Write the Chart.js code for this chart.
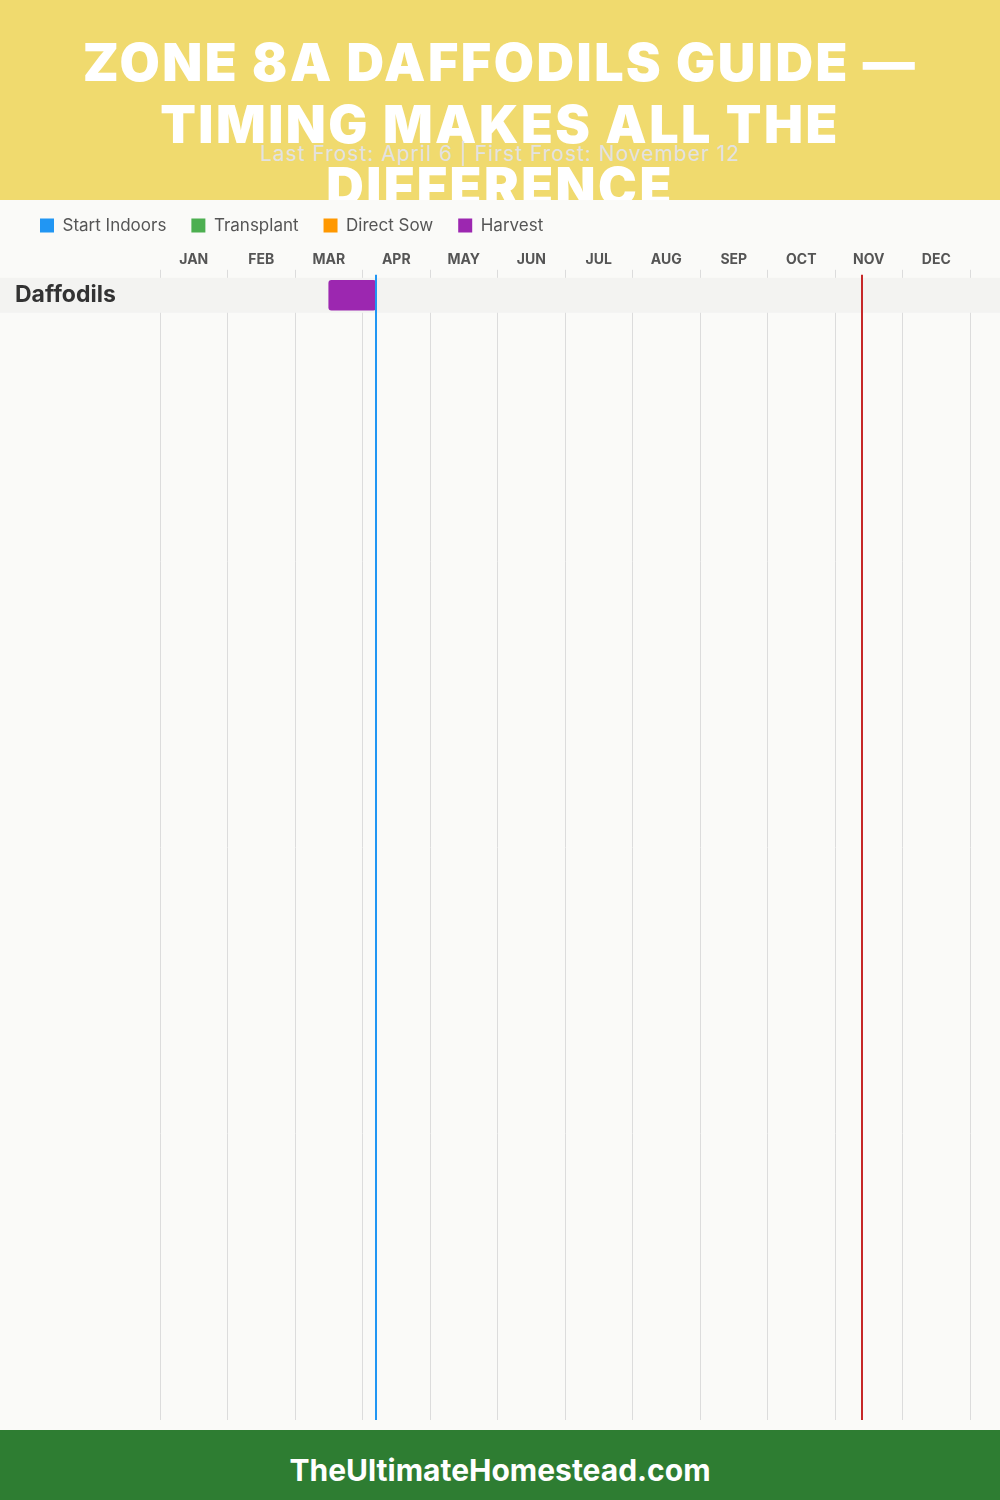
<!DOCTYPE html>
<html>
<head>
<meta charset="utf-8">
<script src="https://cdn.jsdelivr.net/npm/chart.js"></script>
<style>
  body { margin: 0; width: 1000px; height: 1500px; position: relative; background: #fafaf8; font-family: 'Inter', 'Open Sans', sans-serif; overflow: hidden; }
  #header { position: absolute; top: 0; left: 0; width: 1000px; height: 200px; background: #f0da6e; }
  #title { position: absolute; top: 32px; left: 0; width: 1000px; text-align: center; color: #fff; font-weight: 900; font-size: 52px; line-height: 62px; letter-spacing: 2.5px; }
  #subtitle { position: absolute; top: 140px; left: 0; width: 1000px; text-align: center; color: #e2e2e2; font-size: 21px; line-height: 28px; letter-spacing: 1px; }
  #chartBox { position: absolute; top: 200px; left: 0; width: 1000px; height: 1230px; background: #fafaf8; }
  #footer { position: absolute; top: 1430px; left: 0; width: 1000px; height: 70px; background: #2e7d32; color: #fff; text-align: center; font-weight: 700; font-size: 30px; line-height: 70px; overflow: hidden; }
  #footer span { position: relative; top: 5px; }
</style>
</head>
<body>
<div id="header">
  <div id="title">ZONE 8A DAFFODILS GUIDE —<br>TIMING MAKES ALL THE<br>DIFFERENCE</div>
  <div id="subtitle">Last Frost: April 6 | First Frost: November 12</div>
</div>
<div id="chartBox"><canvas id="myChart" width="1000" height="1230"></canvas></div>
<div id="footer"><span>TheUltimateHomestead.com</span></div>
<script>
// months on the x axis, 1 unit = 1 month, day offset = day / 30
const months = ['JAN', 'FEB', 'MAR', 'APR', 'MAY', 'JUN', 'JUL', 'AUG', 'SEP', 'OCT', 'NOV', 'DEC'];
const crops = ['Daffodils'];

const startIndoors = [];
const transplant = [];
const directSow = [];
const harvest = [[2.5, 3.2]]; // Mar 15 - Apr 6

const lastFrost = 3.2;   // April 6
const firstFrost = 10.4; // November 12

const rowsVisible = 27.95; // empty rows below the crops

function toPoints(ranges) {
  return ranges.map((r, i) => ({ x: r, y: i }));
}

// light band behind each crop row
const rowBands = {
  id: 'rowBands',
  beforeDatasetsDraw(chart) {
    const { ctx, scales } = chart;
    ctx.save();
    ctx.fillStyle = '#f3f3f1';
    crops.forEach((c, i) => {
      const y = scales.y.getPixelForValue(i);
      ctx.fillRect(0, y - 17.5, chart.width, 35);
    });
    ctx.restore();
  }
};

// last / first frost markers
const frostLines = {
  id: 'frostLines',
  afterDatasetsDraw(chart) {
    const { ctx, chartArea, scales } = chart;
    const lines = [[lastFrost, '#2196f3'], [firstFrost, '#c62828']];
    ctx.save();
    ctx.lineWidth = 2;
    lines.forEach(([v, color]) => {
      const x = scales.x.getPixelForValue(v);
      ctx.strokeStyle = color;
      ctx.beginPath();
      ctx.moveTo(x, chartArea.top);
      ctx.lineTo(x, chartArea.bottom);
      ctx.stroke();
    });
    ctx.restore();
  }
};

const ctx = document.getElementById('myChart').getContext('2d');
new Chart(ctx, {
  type: 'bar',
  data: {
    datasets: [
      { label: 'Start Indoors', data: toPoints(startIndoors), backgroundColor: '#2196f3' },
      { label: 'Transplant', data: toPoints(transplant), backgroundColor: '#4caf50' },
      { label: 'Direct Sow', data: toPoints(directSow), backgroundColor: '#ff9800' },
      { label: 'Harvest', data: toPoints(harvest), backgroundColor: '#9c27b0' }
    ]
  },
  options: {
    indexAxis: 'y',
    responsive: false,
    animation: false,
    layout: { padding: { top: -8, left: 15, right: 30, bottom: 10 } },
    datasets: {
      bar: { grouped: false, barThickness: 30, borderWidth: 0, borderRadius: 3, borderSkipped: false }
    },
    scales: {
      x: {
        type: 'linear',
        position: 'top',
        min: 0,
        max: 12,
        afterBuildTicks: (scale) => {
          scale.ticks = months.concat(['']).map((m, i) => ({ value: i }));
        },
        afterFit: (scale) => { scale.height += 5; },
        ticks: {
          autoSkip: false,
          maxRotation: 0,
          labelOffset: 33.75,
          padding: 2,
          color: '#555',
          font: { family: 'Inter', size: 14, weight: 'bold' },
          callback: (v) => months[v] || ''
        },
        grid: { color: '#dcdcdc', lineWidth: 1, tickLength: 5 },
        border: { display: false }
      },
      y: {
        type: 'linear',
        reverse: true,
        offset: false,
        min: -0.5,
        max: rowsVisible - 0.5,
        afterBuildTicks: (scale) => {
          scale.ticks = crops.map((c, i) => ({ value: i }));
        },
        afterFit: (scale) => {
          scale.width = 145;
          scale.paddingTop = 0;
          scale.paddingBottom = 0;
        },
        ticks: {
          crossAlign: 'far',
          padding: 0,
          z: 1,
          color: '#333',
          font: { family: 'Inter', size: 23, weight: 'bold' },
          callback: (v) => crops[v]
        },
        grid: { display: false },
        border: { display: false }
      }
    },
    plugins: {
      legend: {
        display: true,
        align: 'start',
        labels: {
          boxWidth: 14,
          boxHeight: 14,
          padding: 25,
          color: '#555',
          font: { family: 'Inter', size: 17 }
        }
      },
      title: { display: false },
      tooltip: { enabled: false }
    }
  },
  plugins: [rowBands, frostLines]
});
</script>
</body>
</html>
